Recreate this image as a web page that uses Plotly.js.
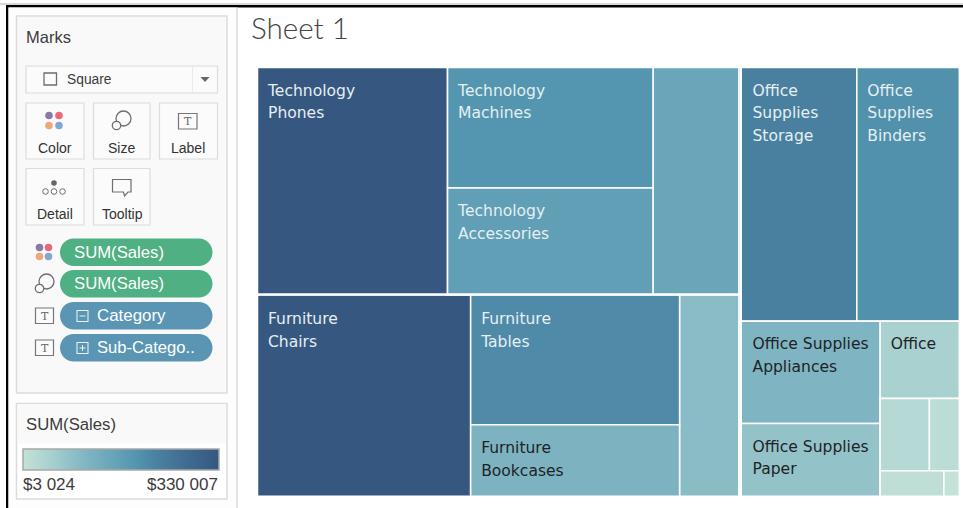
<!DOCTYPE html>
<html><head><meta charset="utf-8">
<script src="https://cdn.plot.ly/plotly-3.0.1.min.js"></script>
<style>html,body{margin:0;padding:0;background:#fff;overflow:hidden}#chart{width:963px;height:508px}</style>
</head><body><div id="chart"></div>
<script>
// ---- data ----
const subCategories = ["Phones","Machines","Accessories","Copiers","Chairs","Tables","Bookcases","Furnishings","Storage","Binders","Appliances","Paper","Supplies","Art","Envelopes","Labels","Fasteners"];
const categories = ["Technology","Technology","Technology","Technology","Furniture","Furniture","Furniture","Furniture","Office Supplies","Office Supplies","Office Supplies","Office Supplies","Office Supplies","Office Supplies","Office Supplies","Office Supplies","Office Supplies"];
const sales = [330007,189239,167380,149528,328449,207600,114250,91705,228500,198750,110150,78479,46674,27119,16476,12486,3024];
const tileText = {Phones:"Technology<br>Phones",Machines:"Technology<br>Machines",Accessories:"Technology<br>Accessories",Chairs:"Furniture<br>Chairs",Tables:"Furniture<br>Tables",Bookcases:"Furniture<br>Bookcases",Storage:"Office<br>Supplies<br>Storage",Binders:"Office<br>Supplies<br>Binders",Appliances:"Office Supplies<br>Appliances",Paper:"Office Supplies<br>Paper",Supplies:"Office"};
const darkText = ["Bookcases","Appliances","Paper","Supplies"];
const colorStops = [[0,"#c4e2d8"],[0.14,"#a8d0d0"],[0.3,"#84b8c4"],[0.45,"#69a6b9"],[0.57,"#5496b0"],[0.68,"#4a81a1"],[0.85,"#3e6a8f"],[1,"#36577f"]];
const legendMin = "$3 024", legendMax = "$330 007";

// ---- hierarchy, in sibling order ----
const order = {"All":["TechFurn","Office Supplies"],"TechFurn":["Technology","Furniture"],"Technology":["Phones","TechMid","Copiers"],"TechMid":["Machines","Accessories"],"Furniture":["Chairs","FurnMid","Furnishings"],"FurnMid":["Tables","Bookcases"],"Office Supplies":["OfficeTop","OfficeBottom"],"OfficeTop":["Storage","Binders"],"OfficeBottom":["OfficeMid","OfficeSmall"],"OfficeMid":["Appliances","Paper"],"OfficeSmall":["Supplies","ArtEnv","LabFas"],"ArtEnv":["Art","Envelopes"],"LabFas":["Labels","Fasteners"]};
const ids=[],parents=[],values=[],colors=[],texts=[],tcolors=[];
function total(id){const i=subCategories.indexOf(id);return i>=0?sales[i]:order[id].reduce((s,c)=>s+total(c),0);}
function walk(id,par){
  const i=subCategories.indexOf(id);
  ids.push(id);parents.push(par);values.push(total(id));
  colors.push(i>=0?sales[i]:3024);
  texts.push(tileText[id]||"");
  tcolors.push(darkText.includes(id)?"#1d2326":"#e6eff3");
  (order[id]||[]).forEach(c=>walk(c,id));
}
walk("All","");

// ---- page helpers ----
const W=963,H=508,X=p=>p/W,Y=p=>1-p/H;
function rect(x0,y0,x1,y1,fill,line,lw,layer){return {type:"rect",xref:"paper",yref:"paper",x0:X(x0),x1:X(x1),y0:Y(y0),y1:Y(y1),fillcolor:fill||"rgba(0,0,0,0)",line:{color:line||"rgba(0,0,0,0)",width:lw===undefined?1:lw},layer:layer||"below"};}
function circle(cx,cy,r,fill,line,lw){return {type:"circle",xref:"paper",yref:"paper",x0:X(cx-r),x1:X(cx+r),y0:Y(cy-r),y1:Y(cy+r),fillcolor:fill||"rgba(0,0,0,0)",line:{color:line||"rgba(0,0,0,0)",width:lw===undefined?1:lw},layer:"below"};}
function path(pts,fill,line,lw){return {type:"path",xref:"paper",yref:"paper",path:pts.replace(/(-?[\d.]+),(-?[\d.]+)/g,(m,a,b)=>X(+a)+","+Y(+b)),fillcolor:fill||"rgba(0,0,0,0)",line:{color:line||"rgba(0,0,0,0)",width:lw===undefined?1:lw},layer:"below"};}
function pill(x0,y0,x1,y1,fill){const r=(y1-y0)/2,k=r*0.55,m=(y0+y1)/2;
  return path(`M${x0+r},${y0} L${x1-r},${y0} C${x1-r+k},${y0} ${x1},${m-k} ${x1},${m} C${x1},${m+k} ${x1-r+k},${y1} ${x1-r},${y1} L${x0+r},${y1} C${x0+r-k},${y1} ${x0},${m+k} ${x0},${m} C${x0},${m-k} ${x0+r-k},${y0} ${x0+r},${y0} Z`,fill,"rgba(0,0,0,0)",0);}
function txt(t,x,y,size,color,anchor,font){return {text:t,xref:"paper",yref:"paper",x:X(x),y:Y(y),xanchor:anchor||"left",yanchor:"middle",showarrow:false,borderpad:0,font:{family:font||"Liberation Sans, Arial, sans-serif",size:size,color:color||"#3c3c3c"}};}
const BOX="#dcdcdc",CARD="#f9f9f9",ICON="#6e6e6e";
function dots(cx,cy,d,r){return [circle(cx-d,cy-d,r,"#877ba6"),circle(cx+d,cy-d,r,"#e8687c"),circle(cx-d,cy+d,r,"#efa878"),circle(cx+d,cy+d,r,"#82a8d6")];}
function sizeIcon(cx,cy){return [circle(cx+2.5,cy-2.5,7.5,"rgba(0,0,0,0)",ICON,1.3),circle(cx-4.5,cy+4.5,4.2,CARD,ICON,1.3)];}
function tBox(x0,y0,x1,y1){return rect(x0,y0,x1,y1,"#fbfbfb","#777",1.2);}

const GUTTER_H=[293.2,295.8], GUTTER_V=[739.6,742];
const shapes=[
  rect(0,3,963,5,"#d8d8d8"),
  rect(6,5,963,7.5,"#000"),
  rect(6,5,8.5,508,"#000"),
  rect(236,7.5,238,508,"#e4e4e4"),
  rect(8.5,7.5,236,508,"#fdfdfd"),
  rect(16.5,16,227,393,CARD,BOX,1.5),
  rect(16.5,403.5,227,499,"#fff",BOX,1.5),
  rect(17.5,404.5,226,443.5,CARD),
  rect(26,66,217.5,93,"#fbfbfb",BOX,1.2),
  rect(192,66.5,192.8,92.5,"#e6e6e6"),
  path("M200.5,77 L209.5,77 L205,82 Z","#666"),
  rect(44,73,56.5,85,"#fbfbfb",ICON,1.3),
  rect(26,103,84,159,"#fbfbfb",BOX,1.2),rect(93.5,103,150,159,"#fbfbfb",BOX,1.2),rect(159.5,103,217.5,159,"#fbfbfb",BOX,1.2),
  rect(26,168.5,84,225,"#fbfbfb",BOX,1.2),rect(93.5,168.5,150,225,"#fbfbfb",BOX,1.2),
  ...dots(54,120.5,5,3.8),
  ...sizeIcon(121,121),
  tBox(178.5,113.5,197,129),
  circle(54,183,2.8,"#666"),circle(45.5,191.5,2.8,"#fbfbfb",ICON,1),circle(54,191.5,2.8,"#fbfbfb",ICON,1),circle(62.5,191.5,2.8,"#fbfbfb",ICON,1),
  path("M112.5,179.5 L131,179.5 L131,192 L128,192 L124.5,196 L123.5,192 L112.5,192 Z","#fbfbfb",ICON,1.2),
  pill(60,238.5,212.5,266,"#4fb083"),pill(60,270,212.5,297.5,"#4fb083"),
  pill(60,302,212.5,329.5,"#5a96b4"),pill(60,334,212.5,361.5,"#5a96b4"),
  ...dots(44,252,4.5,3.8),
  ...sizeIcon(44,284),
  tBox(35.5,308,53.5,323.5),tBox(35.5,340,53.5,355.5),
  rect(77,310.5,88,321.5,"rgba(0,0,0,0)","#e8f1f5",1.1),rect(79.5,315.5,85.5,316.5,"#e8f1f5"),
  rect(77,342.5,88,353.5,"rgba(0,0,0,0)","#e8f1f5",1.1),rect(79.5,347.5,85.5,348.5,"#e8f1f5"),rect(82,345,83,351,"#e8f1f5"),
  rect(257,GUTTER_H[0],741,GUTTER_H[1],"#fff","#fff",0,"above"),
  rect(GUTTER_V[0],67,GUTTER_V[1],497,"#fff","#fff",0,"above")
];
const SERIF="DejaVu Serif, serif";
const annotations=[
  txt("Marks",25,36.7,16.5,"#3c3c3c"),
  txt("Square",66,79.5,13.8,"#3c3c3c"),
  txt("Color",54.5,148,14,"#333","center"),txt("Size",121,148,14,"#333","center"),txt("Label",188,148,14,"#333","center"),
  txt("Detail",54.5,214,14,"#333","center"),txt("Tooltip",122,214,14,"#333","center"),
  txt("T",187.7,121,11,"#666","center",SERIF),txt("T",44.5,316,11,"#666","center",SERIF),txt("T",44.5,348,11,"#666","center",SERIF),
  txt("SUM(Sales)",73,252,16.7,"#fff"),txt("SUM(Sales)",73,283.5,16.7,"#fff"),
  txt("Category",96,315.5,16.9,"#fff"),txt("Sub-Catego..",96,347.5,16.6,"#fff"),
  txt("SUM(Sales)",25,424,16.7,"#3c3c3c"),
  txt(legendMin,21.5,484,17,"#3c3c3c"),txt(legendMax,219,484,17,"#3c3c3c","right")
];

const trace={
  type:"treemap",ids:ids,labels:ids,parents:parents,values:values,text:texts,
  branchvalues:"total",sort:false,maxdepth:-1,
  textinfo:"text",textposition:"top left",
  tiling:{packing:"slice-dice",pad:0},
  pathbar:{visible:false},
  domain:{x:[X(257.5),X(959.3)],y:[Y(496.3),Y(67.5)]},
  insidetextfont:{family:"DejaVu Sans, sans-serif",size:15.55,color:tcolors},
  marker:{colors:colors,colorscale:colorStops,cmin:3024,cmax:330007,showscale:true,
    line:{color:"#ffffff",width:1.5},pad:{t:0,l:0,r:0,b:0},depthfade:false,
    colorbar:{orientation:"h",x:X(23),xanchor:"left",y:Y(449),yanchor:"top",lenmode:"pixels",len:196,thicknessmode:"pixels",thickness:21,xpad:0,ypad:0,outlinecolor:"#a8a8a8",outlinewidth:1.5,borderwidth:0,ticks:"",showticklabels:false}},
  leaf:{opacity:1},
  hovertemplate:"%{label}: %{value}<extra></extra>"
};
const layout={
  width:W,height:H,margin:{l:0,r:0,t:0,b:0,pad:0,autoexpand:false},
  paper_bgcolor:"#fff",plot_bgcolor:"#fff",
  title:{text:"Sheet 1",x:X(251),xref:"container",xanchor:"left",y:Y(29),yref:"container",yanchor:"middle",pad:{t:0,b:0,l:0,r:0},font:{family:"Lato, Open Sans, sans-serif",size:29.6,weight:300,color:"#444"}},
  shapes:shapes,annotations:annotations,showlegend:false
};

// Place each label relative to its own visible tile, with the view's inset and line spacing
const INSET_X=10.5,BASELINE=28,LEAD=1.47;
function dressLabels(gd){
  gd.querySelectorAll("text.slicetext").forEach(t=>{
    const slice=t.closest("g.slice"),surf=slice&&slice.querySelector("path.surface");
    if(!surf||!t.textContent.trim())return;
    const b=surf.getBBox();
    const left=(b.x>GUTTER_V[0]-3&&b.x<GUTTER_V[1])?GUTTER_V[1]:b.x;
    const top=(b.y>GUTTER_H[0]-3&&b.y<GUTTER_H[1])?GUTTER_H[1]:b.y;
    t.querySelectorAll("tspan.line").forEach((l,i)=>l.setAttribute("dy",(LEAD*i)+"em"));
    t.setAttribute("transform","translate("+(left+INSET_X)+","+(top+BASELINE)+")");
  });
}
const gd=document.getElementById("chart");
Plotly.newPlot(gd,[trace],layout,{displayModeBar:false,responsive:false}).then(()=>{dressLabels(gd);setTimeout(()=>dressLabels(gd),300);});
</script></body></html>
